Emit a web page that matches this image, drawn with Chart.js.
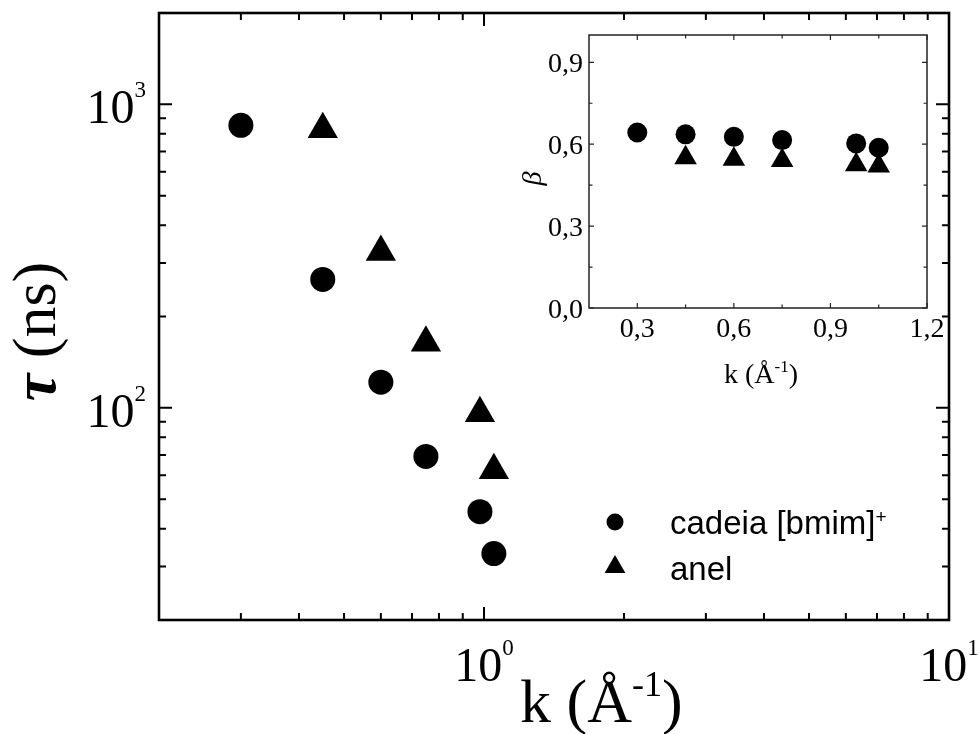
<!DOCTYPE html>
<html>
<head>
<meta charset="utf-8">
<script src="https://cdn.jsdelivr.net/npm/chart.js@4.4.0/dist/chart.umd.min.js"></script>
<style>
  html, body { margin: 0; padding: 0; background: #fff; }
  #wrap { position: relative; width: 979px; height: 734px; }
  #wrap canvas { position: absolute; left: 0; top: 0; }
</style>
</head>
<body>
<div id="wrap">
  <canvas id="main" width="979" height="734"></canvas>
  <canvas id="inset" width="979" height="734"></canvas>
</div>
<script>
// Relaxation time tau (ns) versus wave vector k (1/Angstrom)
const kChain   = [0.30, 0.45, 0.60, 0.75, 0.98, 1.05];
const tauChain = [853, 265, 121.5, 69.2, 45.5, 33.1];
const kRing    = [0.45, 0.60, 0.75, 0.98, 1.05];
const tauRing  = [828, 326, 164, 96, 62.3];

// Stretching exponent beta versus k (inset)
const betaChain = [0.643, 0.636, 0.627, 0.615, 0.603, 0.587];
const betaRing  = [0.550, 0.545, 0.540, 0.525, 0.520];

const seriesNames = ['cadeia [bmim]', 'anel'];

// Main axes (log-log)
const xRange = [0.2, 10];
const yRange = [20, 2000];
const xMajorTicks = [1, 10];
const xMinorTicks = [0.2, 0.3, 0.4, 0.5, 0.6, 0.7, 0.8, 0.9, 2, 3, 4, 5, 6, 7, 8, 9];
const yMajorTicks = [100, 1000];
const yMinorTicks = [20, 30, 40, 50, 60, 70, 80, 90, 200, 300, 400, 500, 600, 700, 800, 900];

// Inset axes (linear)
const insetXRange = [0.15, 1.2];
const insetYRange = [0, 1.0];
const insetXTicks = [0.3, 0.6, 0.9, 1.2];
const insetXMinor = [0.45, 0.75, 1.05];
const insetYTicks = [0.0, 0.3, 0.6, 0.9];
const insetYMinor = [0.15, 0.45, 0.75];

const SERIF = '"Liberation Serif", "Times New Roman", serif';
const SANS = '"Liberation Sans", Arial, sans-serif';

const toPoints = (xs, ys) => xs.map((x, i) => ({ x, y: ys[i] }));
const decimalComma = v => v.toFixed(1).replace('.', ',');
const exponent = v => String(Math.round(Math.log10(v)));

// Draw a run of text pieces (each with its own font and raise) as one label
function drawRich(ctx, parts, x, y, align) {
  let w = 0;
  parts.forEach(p => { ctx.font = p.font; w += ctx.measureText(p.text).width; });
  let cx = align === 'center' ? x - w / 2 : align === 'right' ? x - w : x;
  ctx.textAlign = 'left';
  ctx.textBaseline = 'alphabetic';
  parts.forEach(p => {
    ctx.font = p.font;
    ctx.fillText(p.text, cx, y - (p.rise || 0));
    cx += ctx.measureText(p.text).width;
  });
}

// Inward tick marks on all four sides of the plot frame
function drawTicks(ctx, chart, xVals, yVals, len) {
  const a = chart.chartArea, xs = chart.scales.x, ys = chart.scales.y;
  ctx.beginPath();
  xVals.forEach(v => {
    const px = xs.getPixelForValue(v);
    ctx.moveTo(px, a.bottom); ctx.lineTo(px, a.bottom - len);
    ctx.moveTo(px, a.top); ctx.lineTo(px, a.top + len);
  });
  yVals.forEach(v => {
    const py = ys.getPixelForValue(v);
    ctx.moveTo(a.left, py); ctx.lineTo(a.left + len, py);
    ctx.moveTo(a.right, py); ctx.lineTo(a.right - len, py);
  });
  ctx.stroke();
}

function marker(ctx, style, radius, x, y) {
  ctx.save();
  ctx.fillStyle = '#000';
  ctx.strokeStyle = '#000';
  Chart.helpers.drawPoint(ctx, { pointStyle: style, radius, rotation: 0, borderWidth: 0 }, x, y);
  ctx.restore();
}

const mainDecor = {
  id: 'mainDecor',
  afterDraw(chart) {
    const ctx = chart.ctx, a = chart.chartArea, xs = chart.scales.x, ys = chart.scales.y;
    ctx.save();
    ctx.strokeStyle = '#000';
    ctx.fillStyle = '#000';

    // ticks
    ctx.lineWidth = 2;
    drawTicks(ctx, chart, xMajorTicks, yMajorTicks, 13);
    drawTicks(ctx, chart, xMinorTicks, yMinorTicks, 7);

    // frame
    ctx.lineWidth = 2.6;
    ctx.strokeRect(a.left, a.top, a.right - a.left, a.bottom - a.top);

    // tick labels
    xMajorTicks.forEach(v => {
      drawRich(ctx, [
        { text: '10', font: '48px ' + SERIF },
        { text: exponent(v), font: '23px ' + SERIF, rise: 26 }
      ], xs.getPixelForValue(v), a.bottom + 61, 'center');
    });
    yMajorTicks.forEach(v => {
      drawRich(ctx, [
        { text: '10', font: '48px ' + SERIF },
        { text: exponent(v), font: '23px ' + SERIF, rise: 26 }
      ], a.left - 13, ys.getPixelForValue(v) + 19, 'right');
    });

    // axis titles
    drawRich(ctx, [
      { text: 'k (Å', font: '62px ' + SERIF },
      { text: '-1', font: '36px ' + SERIF, rise: 26 },
      { text: ')', font: '62px ' + SERIF }
    ], a.left + 361, a.bottom + 102, 'left');

    ctx.save();
    ctx.translate(55, (a.top + a.bottom) / 2 + 15);
    ctx.rotate(-Math.PI / 2);
    drawRich(ctx, [
      { text: 'τ', font: 'italic bold 62px ' + SERIF },
      { text: ' (ns)', font: '62px ' + SERIF }
    ], 0, 0, 'center');
    ctx.restore();

    // legend
    const lx = a.left + 456, ly = a.top + 509, gap = 45;
    marker(ctx, 'circle', 8.5, lx, ly);
    marker(ctx, 'triangle', 12, lx, ly + gap);
    drawRich(ctx, [
      { text: seriesNames[0], font: '33px ' + SANS },
      { text: '+', font: '19px ' + SANS, rise: 11 }
    ], lx + 55, ly + 12, 'left');
    drawRich(ctx, [{ text: seriesNames[1], font: '33px ' + SANS }], lx + 55, ly + gap + 13, 'left');

    ctx.restore();
  }
};

const insetDecor = {
  id: 'insetDecor',
  afterDraw(chart) {
    const ctx = chart.ctx, a = chart.chartArea, xs = chart.scales.x, ys = chart.scales.y;
    ctx.save();
    ctx.strokeStyle = '#222';
    ctx.fillStyle = '#000';

    ctx.lineWidth = 1.2;
    drawTicks(ctx, chart, insetXTicks, insetYTicks, 5);
    drawTicks(ctx, chart, insetXMinor, insetYMinor, 3.5);

    ctx.lineWidth = 1.5;
    ctx.strokeRect(a.left, a.top, a.right - a.left, a.bottom - a.top);

    insetXTicks.forEach(v => {
      drawRich(ctx, [{ text: decimalComma(v), font: '28px ' + SERIF }],
        xs.getPixelForValue(v), a.bottom + 29, 'center');
    });
    insetYTicks.forEach(v => {
      drawRich(ctx, [{ text: decimalComma(v), font: '28px ' + SERIF }],
        a.left - 6, ys.getPixelForValue(v) + 9.5, 'right');
    });

    drawRich(ctx, [
      { text: 'k (Å', font: '28px ' + SERIF },
      { text: '-1', font: '17px ' + SERIF, rise: 11 },
      { text: ')', font: '28px ' + SERIF }
    ], (a.left + a.right) / 2 + 3, a.bottom + 75, 'center');

    ctx.save();
    ctx.translate(a.left - 48, (a.top + a.bottom) / 2 + 7);
    ctx.rotate(-Math.PI / 2);
    drawRich(ctx, [{ text: 'β', font: 'italic 28px ' + SERIF }], 0, 0, 'center');
    ctx.restore();

    ctx.restore();
  }
};

const pointSet = (label, data, style, radius) => ({
  label, data,
  pointStyle: style,
  pointRadius: radius,
  pointHoverRadius: radius,
  pointBackgroundColor: '#000',
  pointBorderWidth: 0,
  showLine: false
});

new Chart(document.getElementById('main'), {
  type: 'scatter',
  data: {
    datasets: [
      pointSet(seriesNames[0], toPoints(kChain, tauChain), 'circle', 12.5),
      pointSet(seriesNames[1], toPoints(kRing, tauRing), 'triangle', 17.5)
    ]
  },
  options: {
    responsive: false,
    animation: false,
    devicePixelRatio: 1,
    layout: { autoPadding: false, padding: { left: 159, top: 13, right: 30, bottom: 114 } },
    plugins: { legend: { display: false }, tooltip: { enabled: false } },
    scales: {
      x: { type: 'logarithmic', min: xRange[0], max: xRange[1], display: false },
      y: { type: 'logarithmic', min: yRange[0], max: yRange[1], display: false }
    }
  },
  plugins: [mainDecor]
});

new Chart(document.getElementById('inset'), {
  type: 'scatter',
  data: {
    datasets: [
      pointSet(seriesNames[0], toPoints(kChain, betaChain), 'circle', 10),
      pointSet(seriesNames[1], toPoints(kRing, betaRing), 'triangle', 13)
    ]
  },
  options: {
    responsive: false,
    animation: false,
    devicePixelRatio: 1,
    layout: { autoPadding: false, padding: { left: 589, top: 35, right: 52, bottom: 426 } },
    plugins: { legend: { display: false }, tooltip: { enabled: false } },
    scales: {
      x: { type: 'linear', min: insetXRange[0], max: insetXRange[1], display: false },
      y: { type: 'linear', min: insetYRange[0], max: insetYRange[1], display: false }
    }
  },
  plugins: [insetDecor]
});
</script>
</body>
</html>
